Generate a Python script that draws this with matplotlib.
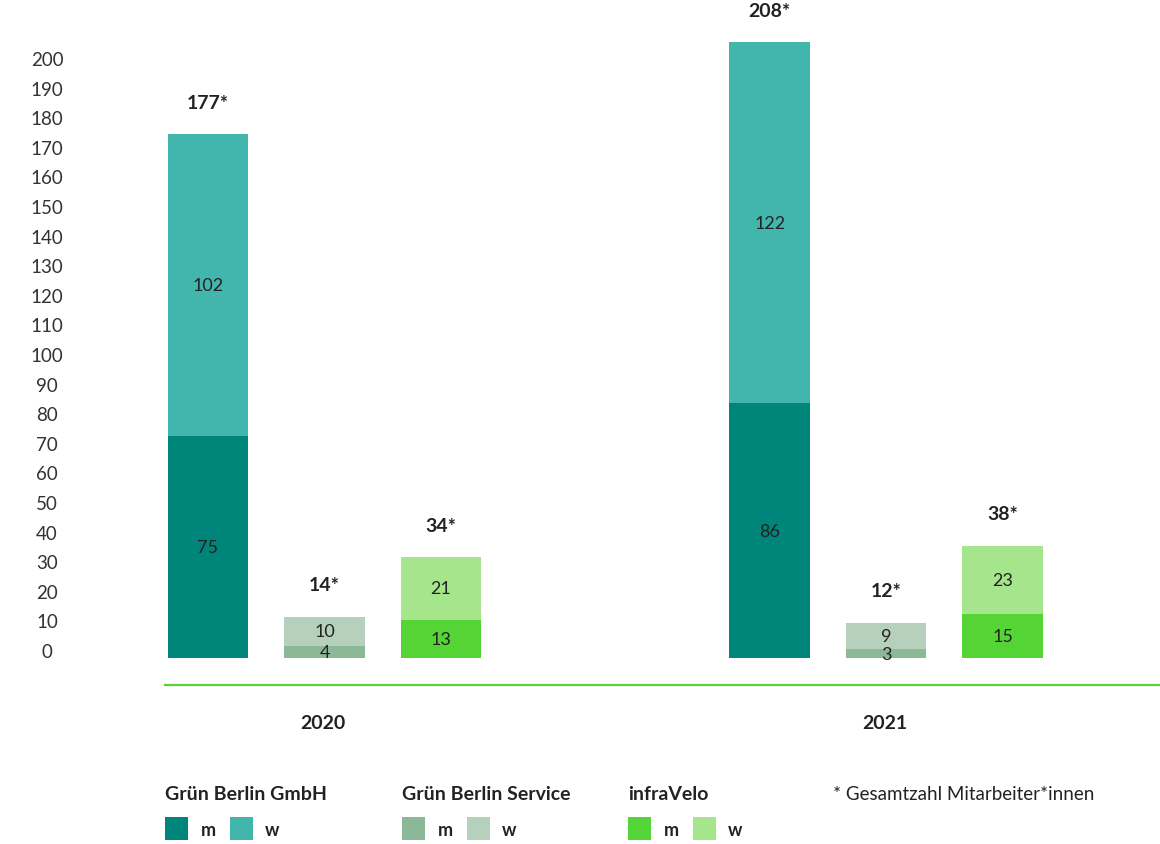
import matplotlib
matplotlib.use('Agg')
import numpy as np
from matplotlib import pyplot as plt
from matplotlib.patches import Rectangle
from matplotlib.transforms import ScaledTranslation

plt.rcParams['font.family'] = ['Lato', 'DejaVu Sans']

years = ['2020', '2021']
companies = ['Grün Berlin GmbH', 'Grün Berlin Service', 'infraVelo']
men = {'2020': [75, 4, 13], '2021': [86, 3, 15]}
women = {'2020': [102, 10, 21], '2021': [122, 9, 23]}
totals = {'2020': [177, 14, 34], '2021': [208, 12, 38]}

colors_m = ['#00857a', '#8bb897', '#55d435']
colors_w = ['#42b5ad', '#b5d1bb', '#a5e68c']
text_color = '#222222'

# bar positions (bar spacing units)
group_start = {'2020': 0.0, '2021': 4.82}
bar_width = 0.69

fig = plt.figure(figsize=(11.6, 8.45), dpi=100)
ax = fig.add_axes([165 / 1160, 1 - 686 / 845, 995 / 1160, 686 / 845])
ax.set_xlim(-0.369, 8.17)
ax.set_ylim(-9.1, 222.6)

for year in years:
    xs = group_start[year] + np.arange(len(companies))
    ax.bar(xs, men[year], width=bar_width, color=colors_m, linewidth=0)
    ax.bar(xs, women[year], bottom=men[year], width=bar_width, color=colors_w, linewidth=0)
    for x, m, w, t in zip(xs, men[year], women[year], totals[year]):
        ax.text(x, m / 2, str(m), ha='center', va='center', fontsize=13, color=text_color)
        ax.text(x, m + w / 2, str(w), ha='center', va='center', fontsize=13, color=text_color)
        ax.annotate(f'{t}*', (x, m + w), xytext=(0, 23), textcoords='offset points',
                    ha='center', va='center', fontsize=14, fontweight='bold', color=text_color)

# axes styling
for side in ['top', 'right', 'left']:
    ax.spines[side].set_visible(False)
ax.spines['bottom'].set_color('#5dd13a')
ax.spines['bottom'].set_linewidth(1.6)

ax.set_yticks(np.arange(0, 201, 10))
ax.set_yticklabels([str(v) for v in range(0, 201, 10)])
ax.tick_params(axis='y', length=0, pad=85, labelsize=13.5, labelcolor='#333333')
for lab in ax.get_yticklabels():
    lab.set_horizontalalignment('center')
    lab.set_transform(lab.get_transform() + ScaledTranslation(0, 8 / 100, fig.dpi_scale_trans))

ax.set_xticks([group_start[y] + 1 - 0.01 for y in years])
ax.set_xticklabels(years, fontsize=14, fontweight='bold', color=text_color)
ax.tick_params(axis='x', length=0, pad=21)

# legend
W, H = 1160, 845
legend_x = [165, 402, 628]
for x0, name, cm, cw in zip(legend_x, companies, colors_m, colors_w):
    fig.text(x0 / W, 1 - 795 / H, name, ha='left', va='center', fontsize=14,
             fontweight='bold', color=text_color)
    fig.patches.append(Rectangle((x0 / W, 1 - 841 / H), 23 / W, 23 / H,
                                 transform=fig.transFigure, color=cm, lw=0))
    fig.text((x0 + 36) / W, 1 - 831 / H, 'm', ha='left', va='center', fontsize=13,
             fontweight='bold', color=text_color)
    fig.patches.append(Rectangle(((x0 + 65) / W, 1 - 841 / H), 23 / W, 23 / H,
                                 transform=fig.transFigure, color=cw, lw=0))
    fig.text((x0 + 100) / W, 1 - 831 / H, 'w', ha='left', va='center', fontsize=13,
             fontweight='bold', color=text_color)

fig.text(833 / W, 1 - 795 / H, '* Gesamtzahl Mitarbeiter*innen', ha='left', va='center',
         fontsize=13.5, color=text_color)

plt.savefig('out.png', dpi=100)
